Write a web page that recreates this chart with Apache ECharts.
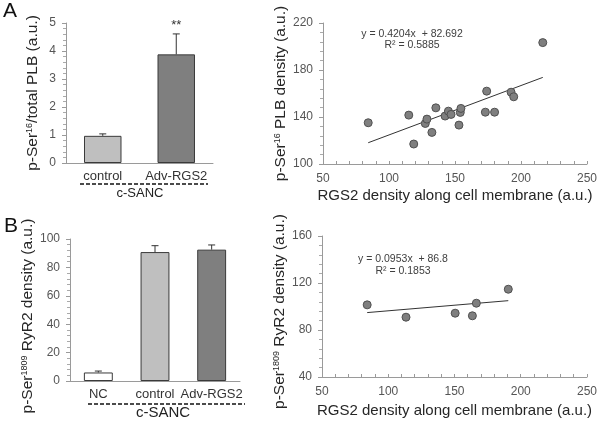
<!DOCTYPE html>
<html><head><meta charset="utf-8">
<script src="https://cdn.jsdelivr.net/npm/echarts@6/dist/echarts.min.js"></script>
<style>html,body{margin:0;padding:0;background:#fff}#c{width:600px;height:423px}</style>
</head><body><div id="c"></div>
<script>
// ---------- data ----------
const barACats = ['control', 'Adv-RGS2'];
const barAValues = [0.97, 3.88];
const barAErrors = [0.07, 0.73];
const barAMarks = ['', '**'];
const barATicks = [0, 1, 2, 3, 4, 5];

const barBCats = ['NC', 'control', 'Adv-RGS2'];
const barBValues = [6.0, 90.8, 92.5];
const barBErrors = [1.0, 4.5, 3.3];
const barBMarks = ['', '', ''];
const barBTicks = [0, 20, 40, 60, 80, 100];

const scatAX = [84.25, 115, 118.75, 127.5, 128.75, 132.5, 135.5, 142.5, 145, 147, 153, 154, 154.5, 174, 173, 180, 192.5, 194.5, 216.5];
const scatAY = [135.1, 141.6, 117, 134.5, 138.2, 126.9, 147.8, 140.8, 145, 142.2, 133.1, 143.9, 147.3, 162, 144.1, 144.1, 161.1, 157.2, 203.3];
const trendASlope = 0.4204, trendAIntercept = 82.692, trendAR2 = '0.5885';
const trendAText = ['y = 0.4204x  + 82.692', 'R\u00b2 = 0.5885'];

const scatBX = [84.1, 113.4, 150.5, 163.5, 166.5, 190.6];
const scatBY = [101.4, 90.9, 94.3, 92.1, 102.8, 114.7];
const trendBSlope = 0.0953, trendBIntercept = 86.8;
const trendBText = ['y = 0.0953x  + 86.8', 'R\u00b2 = 0.1853'];

const xTicksScatter = [50, 100, 150, 200, 250];
const yTicksScatA = [100, 140, 180, 220];
const yTicksScatB = [40, 80, 120, 160];

const groupLabel = 'c-SANC';
const xNameScatter = 'RGS2 density along cell membrane (a.u.)';

// ---------- styles ----------
const FONT = "'Liberation Sans', Arial, sans-serif";
const AXIS_COLOR = '#9a9a9a';
const LABEL_COLOR = '#555';
const NAME_COLOR = '#262626';
const barFill = { 'NC': '#ffffff', 'control': '#bfbfbf', 'Adv-RGS2': '#7f7f7f' };

function pairs(xs, ys) { return xs.map((x, i) => [x, ys[i]]); }
function trendLine(xs, m, b) {
  const lo = Math.min(...xs), hi = Math.max(...xs);
  return [[lo, m * lo + b], [hi, m * hi + b]];
}
function supName(pre, sup, post) {
  return '{n|' + pre + '}{s|' + sup + '}{n|' + post + '}';
}
const nameRich = {
  n: { fontSize: 15.5, fontFamily: FONT, color: NAME_COLOR, lineHeight: 18, verticalAlign: 'bottom' },
  s: { fontSize: 9, fontFamily: FONT, color: NAME_COLOR, lineHeight: 18, verticalAlign: 'top', padding: [2, 0, 0, 0] }
};

function barYAxis(grid, max, interval, name, gap, shift) {
  return {
    gridIndex: grid, type: 'value', min: 0, max: max, interval: interval,
    name: name, nameLocation: 'middle', nameGap: gap,
    nameTextStyle: { rich: nameRich, padding: [0, shift, 0, 0] },
    axisLine: { show: true, lineStyle: { color: AXIS_COLOR } },
    axisTick: { show: true, length: 4, lineStyle: { color: AXIS_COLOR } },
    minorTick: { show: true, splitNumber: 5, length: 3, lineStyle: { color: '#aaa' } },
    splitLine: { show: false },
    axisLabel: { color: LABEL_COLOR, fontSize: 12, fontFamily: FONT, margin: 10 }
  };
}
function barXAxis(grid, cats) {
  return {
    gridIndex: grid, type: 'category', data: cats,
    axisLine: { lineStyle: { color: AXIS_COLOR } },
    axisTick: { show: false },
    axisLabel: { interval: 0, color: '#333', fontSize: 13, fontFamily: FONT, margin: 7 }
  };
}
function scatXAxis(grid, gap) {
  return {
    gridIndex: grid, type: 'value', min: 50, max: 250, interval: 50,
    name: xNameScatter, nameLocation: 'middle', nameGap: gap,
    nameTextStyle: { fontSize: 15, fontFamily: FONT, color: NAME_COLOR },
    axisLine: { lineStyle: { color: AXIS_COLOR } },
    axisTick: { show: true, inside: true, length: 3, lineStyle: { color: AXIS_COLOR } },
    minorTick: { show: true, splitNumber: 5, length: 3, lineStyle: { color: AXIS_COLOR } },
    splitLine: { show: false },
    axisLabel: { color: LABEL_COLOR, fontSize: 12, fontFamily: FONT, margin: 9 }
  };
}
function scatYAxis(grid, min, max, name, gap, shift) {
  return {
    gridIndex: grid, type: 'value', min: min, max: max, interval: 40,
    name: name, nameLocation: 'middle', nameGap: gap,
    nameTextStyle: { rich: nameRich, padding: [0, shift, 0, 0] },
    axisLine: { show: true, lineStyle: { color: AXIS_COLOR } },
    axisTick: { show: true, length: 4, lineStyle: { color: AXIS_COLOR } },
    minorTick: { show: true, splitNumber: 5, length: 3, lineStyle: { color: '#aaa' } },
    splitLine: { show: false },
    axisLabel: { color: LABEL_COLOR, fontSize: 12, fontFamily: FONT, margin: 10 }
  };
}

function barSeries(xi, cats, vals) {
  return {
    type: 'bar', xAxisIndex: xi, yAxisIndex: xi, barWidth: '51%',
    data: vals.map((v, i) => ({ value: v, itemStyle: { color: barFill[cats[i]], borderColor: '#3a3a3a', borderWidth: 1 } })),
    z: 2
  };
}
function errSeries(xi, vals, errs, marks) {
  return {
    type: 'custom', xAxisIndex: xi, yAxisIndex: xi, z: 3,
    data: vals.map((v, i) => [i, v, v + errs[i], marks[i]]),
    renderItem: function (params, api) {
      const base = api.coord([api.value(0), api.value(1)]);
      const top = api.coord([api.value(0), api.value(2)]);
      const mark = marks[params.dataIndex];
      const st = { stroke: '#333', lineWidth: 1 };
      const ch = [
        { type: 'line', shape: { x1: base[0], y1: base[1], x2: top[0], y2: top[1] }, style: st },
        { type: 'line', shape: { x1: top[0] - 3.5, y1: top[1], x2: top[0] + 3.5, y2: top[1] }, style: st }
      ];
      if (mark) {
        ch.push({ type: 'text', x: top[0], y: top[1] - 2, style: { text: mark, fill: '#333', font: '13px ' + FONT, align: 'center', verticalAlign: 'bottom' } });
      }
      return { type: 'group', children: ch };
    }
  };
}
function scatSeries(xi, xs, ys) {
  return {
    type: 'scatter', xAxisIndex: xi, yAxisIndex: xi, symbolSize: 8, z: 3,
    itemStyle: { color: '#7f7f7f', borderColor: '#505050', borderWidth: 1, opacity: 1 },
    data: pairs(xs, ys)
  };
}
function trendSeries(xi, xs, m, b) {
  return {
    type: 'line', xAxisIndex: xi, yAxisIndex: xi, symbol: 'none', z: 2,
    lineStyle: { color: '#333', width: 1 }, data: trendLine(xs, m, b), animation: false
  };
}

const chart = echarts.init(document.getElementById('c'), null, { renderer: 'canvas' });
const txt = (x, y, s, size, align, color) => ({
  type: 'text', x: x, y: y, silent: true,
  style: { text: s, font: size + 'px ' + FONT, fill: color || '#333', align: align || 'center', verticalAlign: 'middle' }
});
chart.setOption({
  animation: false,
  backgroundColor: '#fff',
  textStyle: { fontFamily: FONT },
  grid: [
    { left: 66, top: 23, width: 147, height: 140 },
    { left: 323, top: 23, width: 267, height: 141 },
    { left: 70, top: 239, width: 170, height: 142 },
    { left: 322, top: 236, width: 266, height: 141 }
  ],
  xAxis: [barXAxis(0, barACats), scatXAxis(1, 24), barXAxis(2, barBCats), scatXAxis(3, 26)],
  yAxis: [
    barYAxis(0, 5, 1, supName('p-Ser', '16', '/total PLB (a.u.)'), 25, 0),
    scatYAxis(1, 100, 220, supName('p-Ser', '16', ' PLB density (a.u.)'), 33, 0),
    barYAxis(2, 100, 20, supName('p-Ser', '1809', ' RyR2 density (a.u.)'), 27, 12),
    scatYAxis(3, 40, 160, supName('p-Ser', '1809', ' RyR2 density (a.u.)'), 34, 10)
  ],
  series: [
    barSeries(0, barACats, barAValues), errSeries(0, barAValues, barAErrors, barAMarks),
    trendSeries(1, scatAX, trendASlope, trendAIntercept), scatSeries(1, scatAX, scatAY),
    barSeries(2, barBCats, barBValues), errSeries(2, barBValues, barBErrors, barBMarks),
    trendSeries(3, scatBX, trendBSlope, trendBIntercept), scatSeries(3, scatBX, scatBY)
  ],
  graphic: [
    txt(3, 11, 'A', 21, 'left', '#111'),
    txt(4, 226, 'B', 21, 'left', '#111'),
    { type: 'line', shape: { x1: 80, y1: 184, x2: 208, y2: 184 }, style: { stroke: '#111', lineWidth: 1.5, lineDash: [4, 2] } },
    txt(140, 193, groupLabel, 13, 'center', '#222'),
    { type: 'line', shape: { x1: 88, y1: 404, x2: 245, y2: 404 }, style: { stroke: '#111', lineWidth: 1.5, lineDash: [4, 2] } },
    txt(163, 413, groupLabel, 15, 'center', '#222'),
    txt(412, 34, trendAText[0], 10.5, 'center', '#404040'),
    txt(412, 45, trendAText[1], 10.5, 'center', '#404040'),
    txt(403, 259, trendBText[0], 10.5, 'center', '#404040'),
    txt(403, 271, trendBText[1], 10.5, 'center', '#404040')
  ]
});
</script></body></html>
